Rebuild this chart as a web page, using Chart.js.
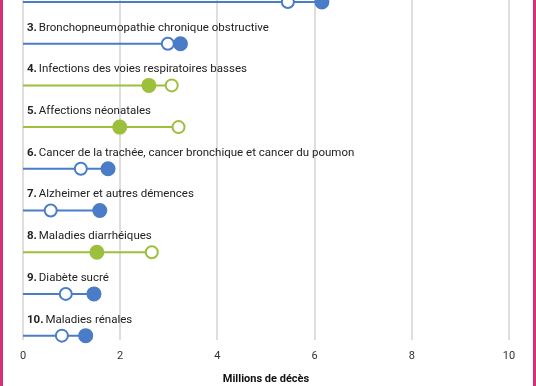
<!DOCTYPE html>
<html>
<head>
<meta charset="utf-8">
<script src="https://cdn.jsdelivr.net/npm/chart.js@4.4.0/dist/chart.umd.min.js"></script>
<style>
  html, body { margin: 0; padding: 0; background: #fff; }
  #wrap { position: relative; width: 536px; height: 386px; }
</style>
</head>
<body>
<div id="wrap"><canvas id="chart" width="536" height="386"></canvas></div>
<script>
// Top causes of death, millions (open = 2000, filled = 2019)
const ranks = [2, 3, 4, 5, 6, 7, 8, 9, 10];
const causes = [
  "Accident vasculaire cérébral",
  "Bronchopneumopathie chronique obstructive",
  "Infections des voies respiratoires basses",
  "Affections néonatales",
  "Cancer de la trachée, cancer bronchique et cancer du poumon",
  "Alzheimer et autres démences",
  "Maladies diarrhéiques",
  "Diabète sucré",
  "Maladies rénales"
];
const deaths2000 = [5.45, 2.98, 3.06, 3.20, 1.19, 0.57, 2.65, 0.88, 0.80];
const deaths2019 = [6.15, 3.24, 2.59, 1.99, 1.75, 1.58, 1.52, 1.46, 1.29];
const xTicks = [0, 2, 4, 6, 8, 10];

const BLUE = '#4a7cc8';
const GREEN = '#9cc03c';
const rowColor = ranks.map((r, i) => deaths2019[i] >= deaths2000[i] ? BLUE : GREEN);

// one stem line per cause, from 0 to the larger value
const stemSets = ranks.map((r, i) => ({
  type: 'line',
  data: [{ x: 0, y: r }, { x: Math.max(deaths2000[i], deaths2019[i]), y: r }],
  borderColor: rowColor[i],
  borderWidth: 2,
  pointRadius: 0,
  order: 3,
  clip: false
}));

const labelPlugin = {
  id: 'labels',
  afterDatasetsDraw(chart) {
    const ctx = chart.ctx;
    const xs = chart.scales.x, ys = chart.scales.y;
    ctx.save();
    ctx.textBaseline = 'middle';
    ctx.fillStyle = '#222';
    ranks.forEach((r, i) => {
      const y = ys.getPixelForValue(r) - 16;
      let x = xs.getPixelForValue(0) + 4;
      ctx.font = 'bold 11.5px Roboto';
      const num = r + '. ';
      ctx.fillText(num, x, y);
      x += ctx.measureText(num).width - 1;
      ctx.font = '11.5px Roboto';
      ctx.fillText(causes[i], x, y);
    });
    ctx.restore();
  },
  afterDraw(chart) {
    const ctx = chart.ctx;
    ctx.save();
    ctx.fillStyle = '#d3307a';
    ctx.fillRect(0, 0, 3, chart.height);
    ctx.fillRect(533, 0, 3, chart.height);
    ctx.restore();
  }
};

new Chart(document.getElementById('chart').getContext('2d'), {
  type: 'scatter',
  data: {
    datasets: [
      {
        label: '2019',
        data: ranks.map((r, i) => ({ x: deaths2019[i], y: r })),
        backgroundColor: rowColor,
        borderColor: rowColor,
        borderWidth: 2,
        pointRadius: 6.5,
        order: 1,
        clip: false
      },
      {
        label: '2000',
        data: ranks.map((r, i) => ({ x: deaths2000[i], y: r })),
        backgroundColor: '#fff',
        borderColor: rowColor,
        borderWidth: 2,
        pointRadius: 6,
        order: 2,
        clip: false
      },
      ...stemSets
    ]
  },
  options: {
    responsive: false,
    animation: false,
    layout: { autoPadding: false, padding: { left: 23, right: 27, top: 0, bottom: 0 } },
    plugins: { legend: { display: false }, tooltip: { enabled: false } },
    scales: {
      x: {
        type: 'linear',
        min: 0,
        max: 10,
        afterBuildTicks(axis) { axis.ticks = xTicks.map(v => ({ value: v })); },
        grid: { color: '#dedede', lineWidth: 2, drawTicks: false },
        border: { display: false },
        ticks: { color: '#333', font: { family: 'Roboto', size: 11 }, padding: 10 },
        title: {
          display: true,
          text: 'Millions de décès',
          color: '#111',
          font: { family: 'Roboto', size: 11, weight: 'bold' },
          padding: { top: 0, bottom: 0 }
        }
      },
      y: {
        type: 'linear',
        display: false,
        reverse: true,
        min: 2 - 2 / 42,
        max: 10 + 4 / 42
      }
    }
  },
  plugins: [labelPlugin]
});
</script>
</body>
</html>
